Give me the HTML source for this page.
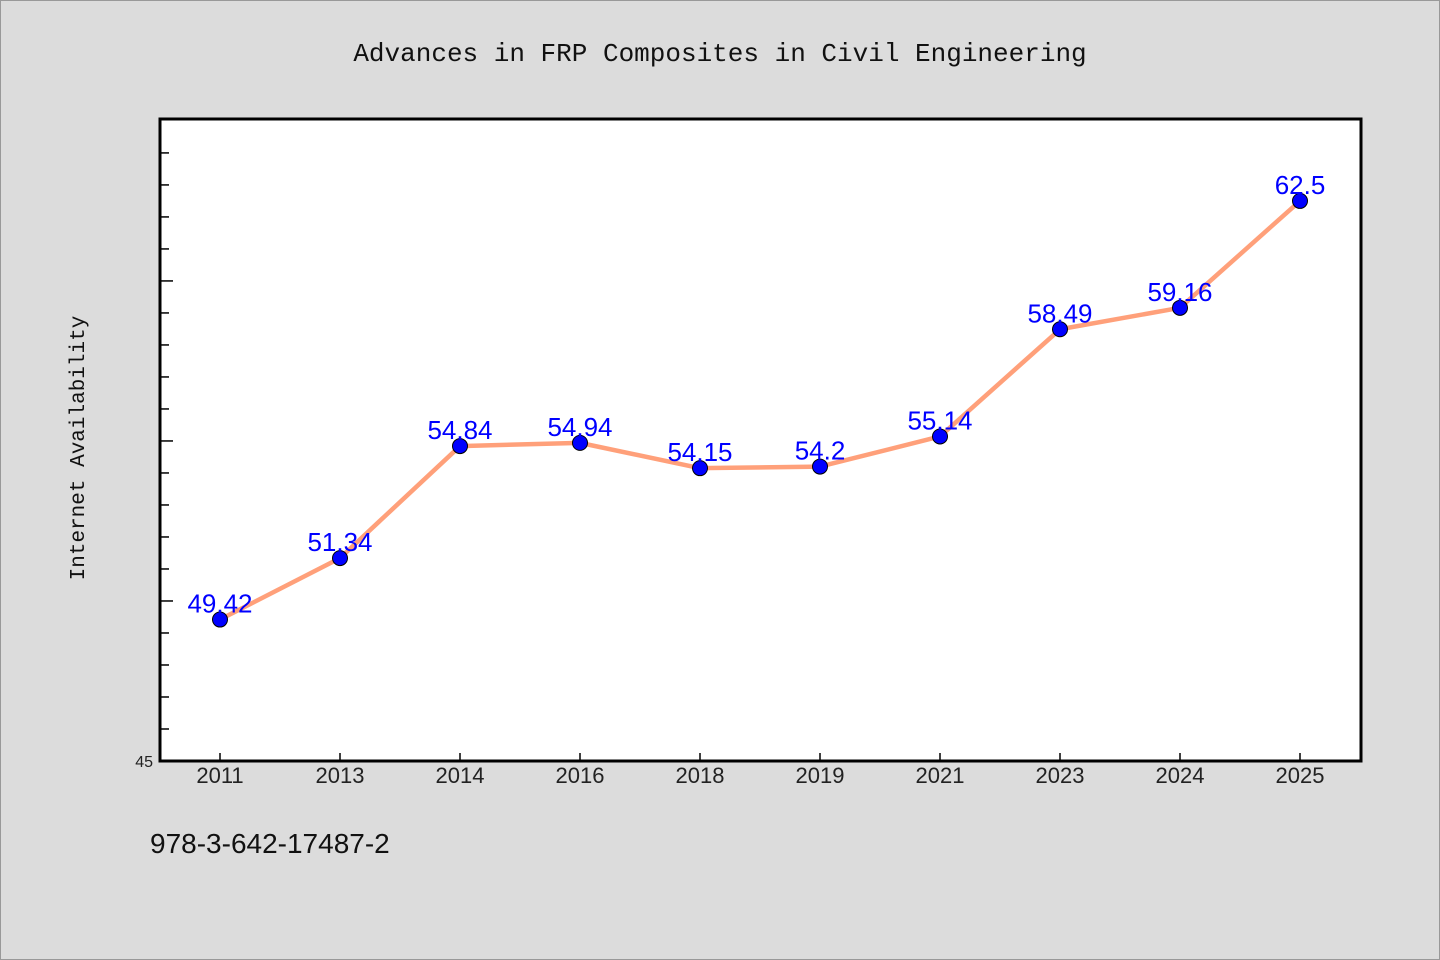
<!DOCTYPE html>
<html><head><meta charset="utf-8"><style>
body{margin:0;background:#dcdcdc;}
svg{display:block;font-family:"Liberation Sans",sans-serif;}
</style></head><body>
<svg id="chart" width="1440" height="960">
<rect x="0.5" y="0.5" width="1439" height="959" fill="#dcdcdc" stroke="#999"/>
<text x="720" y="61" text-anchor="middle" font-family="'Liberation Mono',monospace" font-size="26" fill="#111">Advances in FRP Composites in Civil Engineering</text>
<rect x="160" y="119" width="1201" height="642" fill="#fff" stroke="#000" stroke-width="3"/>
<text transform="translate(84,448) rotate(-90)" text-anchor="middle" font-family="'Liberation Mono',monospace" font-size="21" fill="#111">Internet Availability</text>
<text x="150" y="853" font-size="28" fill="#111" font-family="'Liberation Sans',sans-serif">978-3-642-17487-2</text>
<g id="ticks"></g><g id="series"></g>
</svg>
<script>
const categories=["2011","2013","2014","2016","2018","2019","2021","2023","2024","2025"];
const values=[49.42,51.34,54.84,54.94,54.15,54.2,55.14,58.49,59.16,62.5];
const valueLabels=["49.42","51.34","54.84","54.94","54.15","54.2","55.14","58.49","59.16","62.5"];
const yMin=45,yMax=65.06;
const L=160,R=1361,T=119,B=761;
const ns="http://www.w3.org/2000/svg";
const xs=i=>220+i*120;
const ys=v=>B-(v-yMin)/(yMax-yMin)*(B-T);
function mk(t,a,p){const e=document.createElementNS(ns,t);for(const k in a)e.setAttribute(k,a[k]);p.appendChild(e);return e;}
const tg=document.getElementById('ticks'),sg=document.getElementById('series');
for(let v=46;v<=64;v++){
 const l=mk('line',{x1:L,x2:L+(v%5===0?13:9),y1:ys(v),y2:ys(v),stroke:'#000','stroke-width':1.5},tg);
 
 
}
const yl=mk('text',{x:153,y:767,'text-anchor':'end','font-size':16,fill:'#222'},tg);yl.textContent='45';


categories.forEach((c,i)=>{
 const t=mk('line',{x1:xs(i),x2:xs(i),y1:B,y2:B-8,stroke:'#000','stroke-width':1.5},tg);
 
 
 const tx=mk('text',{x:xs(i),y:783,'text-anchor':'middle','font-size':22,fill:'#222'},tg);tx.textContent=c;
 
 
});
const pl=mk('polyline',{points:values.map((v,i)=>xs(i)+','+ys(v)).join(' '),fill:'none',stroke:'#FFA07A','stroke-width':4.5,'stroke-linejoin':'round'},sg);


values.forEach((v,i)=>{
 const c=mk('circle',{cx:xs(i),cy:ys(v),r:7.5,fill:'#0000ff',stroke:'#000','stroke-width':1},sg);
 
 
 const t=mk('text',{x:xs(i),y:ys(v)-7,'text-anchor':'middle','font-size':26,fill:'#0000ff'},sg);t.textContent=valueLabels[i];
 
 
});
</script>
</body></html>
